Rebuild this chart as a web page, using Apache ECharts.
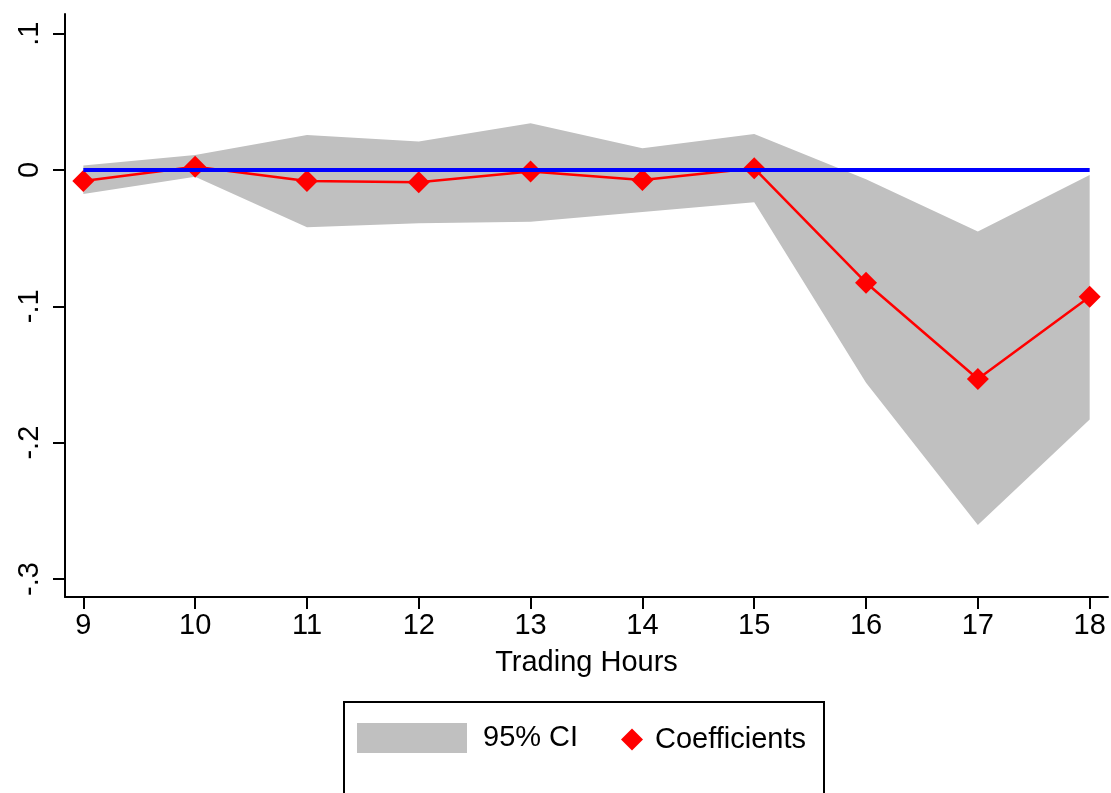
<!DOCTYPE html>
<html>
<head>
<meta charset="utf-8">
<title>Trading Hours coefficients</title>
<script src="https://cdn.jsdelivr.net/npm/echarts@6/dist/echarts.min.js"></script>
<style>
  html, body { margin: 0; padding: 0; background: #fff; }
  #chart { width: 1111px; height: 793px; }
</style>
</head>
<body>
<div id="chart"></div>
<script>
// Hour of the trading day
const hours = [9, 10, 11, 12, 13, 14, 15, 16, 17, 18];
// Point estimates per hour
const coefficients = [-0.0081, 0.0024, -0.0081, -0.0090, -0.0012, -0.0073, 0.0012, -0.0827, -0.1533, -0.0930];
// 95% confidence interval bounds
const ciUpper = [0.0032, 0.0110, 0.0257, 0.0208, 0.0343, 0.0159, 0.0264, -0.0068, -0.0452, -0.0037];
const ciLower = [-0.0176, -0.0049, -0.0420, -0.0390, -0.0379, -0.0308, -0.0237, -0.1560, -0.2604, -0.1830];
// Axis ticks
const yTickValues = [-0.3, -0.2, -0.1, 0, 0.1];
const yTickLabels = ['-.3', '-.2', '-.1', '0', '.1'];
const xTickValues = hours;

const FONT = '"Liberation Sans", Arial, Helvetica, sans-serif';
const FS = 29;

const chart = echarts.init(document.getElementById('chart'), null, { renderer: 'canvas' });

const bandRows = hours.map((h, i) => [h, ciLower[i], ciUpper[i]]);
const coefPairs = hours.map((h, i) => [h, coefficients[i]]);
const zeroPairs = [[hours[0], 0], [hours[hours.length - 1], 0]];

// Confidence band drawn as one polygon: upper edge left to right, lower edge back
function renderBand(params, api) {
  if (params.dataIndex !== 0) return null;
  const upper = bandRows.map(r => api.coord([r[0], r[2]]));
  const lower = bandRows.map(r => api.coord([r[0], r[1]])).reverse();
  return {
    type: 'polygon',
    shape: { points: upper.concat(lower) },
    style: { fill: '#c0c0c0', stroke: null }
  };
}

chart.setOption({
  animation: false,
  backgroundColor: '#fff',
  grid: { left: 65, right: 3, top: 14, bottom: 196, containLabel: false },
  xAxis: {
    type: 'value',
    min: 8.836,
    max: 18.164,
    name: 'Trading Hours',
    nameLocation: 'middle',
    nameGap: 51,
    nameTextStyle: { fontFamily: FONT, fontSize: FS, color: '#000' },
    axisLine: { show: true, onZero: false, lineStyle: { color: '#000', width: 2 } },
    axisTick: { show: true, length: 12, lineStyle: { color: '#000', width: 2 }, customValues: xTickValues },
    axisLabel: {
      fontFamily: FONT, fontSize: FS, color: '#000', margin: 14,
      customValues: xTickValues,
      formatter: v => String(Math.round(v))
    },
    splitLine: { show: false }
  },
  yAxis: {
    type: 'value',
    min: -0.3132,
    max: 0.1144,
    axisLine: { show: true, onZero: false, lineStyle: { color: '#000', width: 2 } },
    axisTick: { show: true, length: 12, lineStyle: { color: '#000', width: 2 }, customValues: yTickValues },
    axisLabel: {
      fontFamily: FONT, fontSize: FS, color: '#000', margin: 21, rotate: 90,
      customValues: yTickValues,
      formatter: v => {
        const i = yTickValues.findIndex(t => Math.abs(t - v) < 1e-6);
        return i >= 0 ? yTickLabels[i] : '';
      }
    },
    splitLine: { show: false }
  },
  legend: [
    {
      data: [{ name: '95% CI', icon: 'rect', itemStyle: { color: '#c0c0c0' } }],
      left: 352, top: 718,
      itemWidth: 110, itemHeight: 30,
      selectedMode: false,
      textStyle: { fontFamily: FONT, fontSize: FS, color: '#000', padding: [2, 0, 0, 11] }
    },
    {
      data: [{ name: 'Coefficients', icon: 'diamond', itemStyle: { color: '#ff0000' } }],
      left: 616, top: 720,
      itemWidth: 22, itemHeight: 22,
      selectedMode: false,
      textStyle: { fontFamily: FONT, fontSize: FS, color: '#000', padding: [0, 0, 0, 7] }
    }
  ],
  graphic: [
    {
      type: 'rect',
      shape: { x: 344, y: 702, width: 480, height: 130 },
      style: { fill: 'none', stroke: '#000', lineWidth: 2 },
      silent: true
    }
  ],
  series: [
    {
      name: '95% CI',
      type: 'custom',
      data: bandRows,
      encode: { x: 0, y: [1, 2] },
      renderItem: renderBand,
      itemStyle: { color: '#c0c0c0' },
      silent: true,
      z: 1
    },
    {
      name: 'Coefficients',
      type: 'line',
      data: coefPairs,
      symbol: 'diamond',
      symbolSize: 22,
      itemStyle: { color: '#ff0000' },
      lineStyle: { color: '#ff0000', width: 2.5 },
      silent: true,
      z: 3
    },
    {
      name: 'zero',
      type: 'line',
      data: zeroPairs,
      symbol: 'none',
      lineStyle: { color: '#0000ff', width: 4 },
      silent: true,
      z: 4
    }
  ]
});
</script>
</body>
</html>
